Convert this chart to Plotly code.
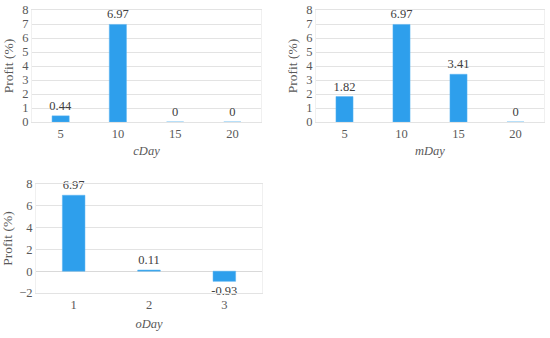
import plotly.graph_objects as go

c_days = ["5", "10", "15", "20"]
c_profit = [0.44, 6.97, 0, 0]
m_days = ["5", "10", "15", "20"]
m_profit = [1.82, 6.97, 3.41, 0]
o_days = ["1", "2", "3"]
o_profit = [6.97, 0.11, -0.93]

W, H = 550, 338
BAR = "#2E9FEC"
FONT = "'Liberation Serif', 'Times New Roman', serif"
TXT = "#404040"
GRID = "#E3E3E3"

fig = go.Figure()

def add(xs, ys, n):
    fig.add_trace(go.Bar(
        x=xs, y=ys, xaxis="x" + ("" if n == 1 else str(n)), yaxis="y" + ("" if n == 1 else str(n)),
        marker=dict(color=BAR, line=dict(color="#5BB5F2", width=0.5)),
        width=0.30, text=[f"{v:g}" for v in ys], textposition="outside",
        constraintext="none",
        textfont=dict(family=FONT, size=12.5, color=TXT), cliponaxis=False,
        showlegend=False))

add(c_days, c_profit, 1)
add(m_days, m_profit, 2)
add(o_days, o_profit, 3)

def px(a, b):
    return [a / W, b / W]

def py(top, bottom):
    return [1 - bottom / H, 1 - top / H]

tick = dict(family=FONT, size=12.5, color="#595959")
xcommon = dict(type="category", showgrid=False, ticks="", tickfont=tick, automargin=False,
               showline=True, linecolor=GRID, mirror=True, zeroline=False)
ycommon = dict(showgrid=True, gridcolor=GRID, gridwidth=1, ticks="", tickfont=tick, automargin=False,
               showline=True, linecolor="#F0F0F0", mirror=True,
               zeroline=True, zerolinecolor="#D9D9D9", zerolinewidth=1)
ytitle = lambda s: dict(text="Profit (%)", font=dict(family=FONT, size=13.5, color="#595959"), standoff=s)
xtf = dict(family=FONT, size=12.5, color="#595959")

fig.update_layout(
    template="none",
    font=dict(family=FONT),
    width=W, height=H, margin=dict(l=0, r=0, t=0, b=0),
    paper_bgcolor="white", plot_bgcolor="white",
    xaxis=dict(domain=px(32, 261), anchor="y", title=dict(text="<i>cDay</i>", standoff=6, font=xtf), **xcommon),
    yaxis=dict(domain=py(10, 122), anchor="x", range=[0, 8], dtick=1, title=ytitle(5), **ycommon),
    xaxis2=dict(domain=px(316, 544), anchor="y2", title=dict(text="<i>mDay</i>", standoff=6, font=xtf), **xcommon),
    yaxis2=dict(domain=py(10, 122), anchor="x2", range=[0, 8], dtick=1, title=ytitle(5), **ycommon),
    xaxis3=dict(domain=px(36, 262), anchor="y3", title=dict(text="<i>oDay</i>", standoff=8, font=xtf), **xcommon),
    yaxis3=dict(domain=py(184, 293), anchor="x3", range=[-2, 8], dtick=2, title=ytitle(9), **ycommon),
)

fig.write_html("out.html", config={"displayModeBar": False},
               post_script="document.body.style.margin='0';document.body.style.padding='0';")
